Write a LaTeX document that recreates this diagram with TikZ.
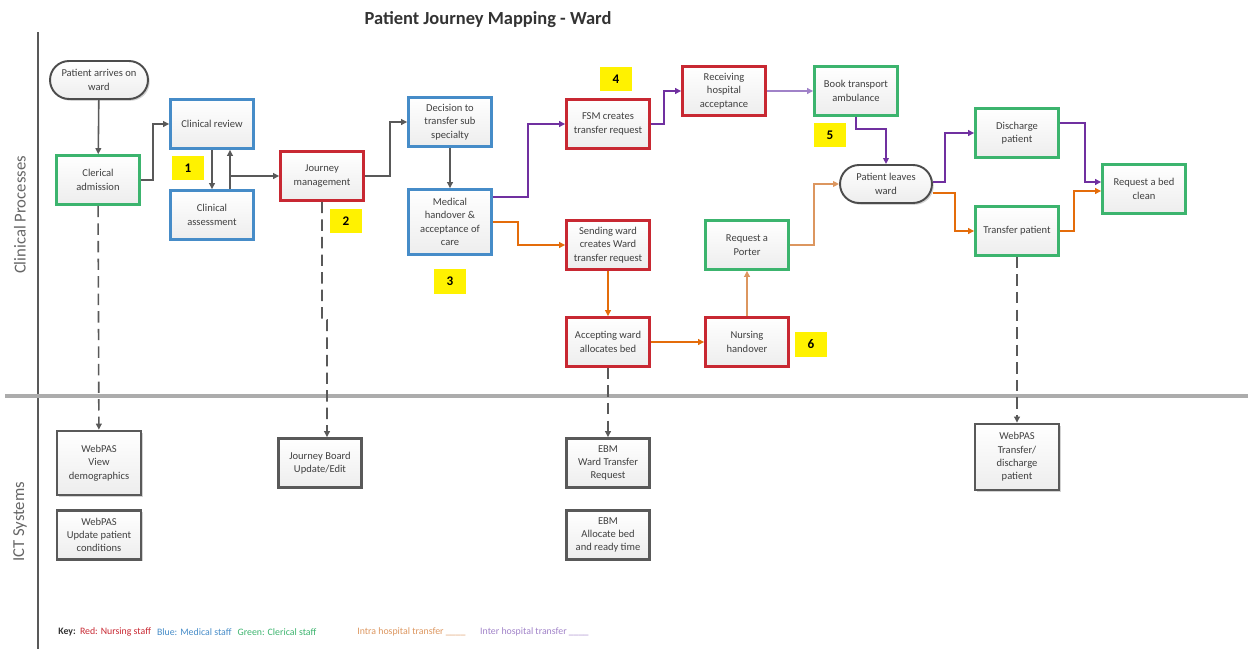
\documentclass[tikz,border=0pt]{standalone}
\usepackage{fontspec}
\setmainfont{Carlito}
\usetikzlibrary{arrows.meta,shadows,positioning}

\definecolor{nursered}{RGB}{200,40,50}
\definecolor{medblue}{RGB}{70,140,200}
\definecolor{clergreen}{RGB}{60,180,110}
\definecolor{interpurple}{RGB}{112,48,160}
\definecolor{intraorange}{RGB}{228,108,10}
\definecolor{interlight}{RGB}{160,130,200}
\definecolor{intralight}{RGB}{220,150,95}

\begin{document}
\begin{tikzpicture}[x=0.02cm,y=-0.02cm,>={Triangle[length=3.4pt,width=3.2pt]},
  box/.style={draw,line width=1.5pt,top color=white,bottom color=gray!14,
    drop shadow={shadow xshift=1pt,shadow yshift=-1pt,opacity=0.35},
    minimum width=1.66cm,minimum height=0.98cm,align=center,inner sep=1pt,
    font=\fontsize{6}{7.6}\selectfont,text=black!75},
  nurse/.style={box,draw=nursered},
  med/.style={box,draw=medblue},
  cler/.style={box,draw=clergreen},
  ict/.style={box,draw=black!65},
  term/.style={box,draw=black!70,line width=1.1pt,rounded corners=0.38cm,minimum height=0.76cm},
  badge/.style={fill=yellow,minimum width=0.64cm,minimum height=0.5cm,font=\fontsize{7.5}{9}\bfseries\selectfont},
  flow/.style={->,line width=0.9pt,black!65},
  intra/.style={->,line width=0.9pt,intraorange},
  inter/.style={->,line width=0.9pt,interpurple},
  sys/.style={->,line width=0.9pt,black!65,dash pattern=on 6.5pt off 3.5pt},
  keytext/.style={anchor=west,inner sep=0pt,font=\fontsize{5.6}{6.5}\selectfont}]
  \useasboundingbox (0,0) rectangle (1248,649);

  % lanes
  \draw[black!65,line width=0.9pt] (38,32) -- (38,649);
  \draw[gray!65,line width=2.2pt] (5,396) -- (1248,396);
  \node[font=\fontsize{10.5}{12}\bfseries\selectfont,text=black!80] (title) at (488,20) {Patient Journey Mapping - Ward};
  \node[rotate=90,font=\fontsize{9.5}{11}\selectfont,text=black!60] (lanecp) at (20,215) {Clinical Processes};
  \node[rotate=90,font=\fontsize{9.5}{11}\selectfont,text=black!60] (laneict) at (20,522) {ICT Systems};

  % clinical processes
  \node[term,minimum width=1.96cm] (arr) at (99,80) {Patient arrives on\\ward};
  \node[cler] (cadm) at (98,180) {Clerical\\admission};
  \node[med] (crev) at (212,124) {Clinical review};
  \node[med] (cass) at (212,215) {Clinical\\assessment};
  \node[nurse] (jman) at (322,176) {Journey\\management};
  \node[med] (dec) at (450,122) {Decision to\\transfer sub\\specialty};
  \node[med,minimum height=1.3cm] (mho) at (450,222) {Medical\\handover \&\\acceptance of\\care};
  \node[nurse] (fsm) at (608,124) {FSM creates\\transfer request};
  \node[nurse] (rha) at (724,91) {Receiving\\hospital\\acceptance};
  \node[cler] (bta) at (856,91) {Book transport\\ambulance};
  \node[nurse] (swd) at (608,245) {Sending ward\\creates Ward\\transfer request};
  \node[nurse] (awd) at (608,342) {Accepting ward\\allocates bed};
  \node[nurse] (nho) at (747,342) {Nursing\\handover};
  \node[cler] (rpo) at (747,245) {Request a\\Porter};
  \node[term,minimum width=1.84cm] (plw) at (886,184) {Patient leaves\\ward};
  \node[cler] (dis) at (1017,133) {Discharge\\patient};
  \node[cler] (trp) at (1017,231) {Transfer patient};
  \node[cler] (rbc) at (1144,189) {Request a bed\\clean};

  % step numbers
  \node[badge] (b1) at (188,168) {1};
  \node[badge] (b2) at (346,221) {2};
  \node[badge] (b3) at (450,281) {3};
  \node[badge] (b4) at (616,79) {4};
  \node[badge] (b5) at (830,135) {5};
  \node[badge] (b6) at (811,344) {6};

  % ICT systems
  \node[ict,minimum width=1.68cm,minimum height=1.28cm] (wpv) at (99,463) {WebPAS\\View\\demographics};
  \node[ict,minimum width=1.68cm] (wpu) at (99,535) {WebPAS\\Update patient\\conditions};
  \node[ict] (jbu) at (320,463) {Journey Board\\Update/Edit};
  \node[ict] (ebw) at (608,463) {EBM\\Ward Transfer\\Request};
  \node[ict] (eba) at (608,535) {EBM\\Allocate bed\\and ready time};
  \node[ict,minimum width=1.68cm,minimum height=1.32cm] (wpt) at (1017,457) {WebPAS\\Transfer/\\discharge\\patient};

  % flows
  \draw[flow] (arr) -- (cadm);
  \draw[flow] (cadm.east) -- ++(12,0) |- (crev.west);
  \draw[flow] (crev) -- (cass);
  \draw[flow] ([xshift=0.36cm]cass.north) -- ([xshift=0.36cm]crev.south);
  \draw[flow] ([xshift=0.36cm]cass.north) |- (jman.west);
  \draw[flow] (jman.east) -- ++(25,0) |- (dec.west);
  \draw[flow] (dec) -- (mho);
  % inter hospital transfer
  \draw[inter] ([yshift=0.5cm]mho.east) -- ++(35,0) |- (fsm.west);
  \draw[inter] (fsm.east) -- ++(13,0) |- (rha.west);
  \draw[inter,interlight] (rha) -- (bta);
  \draw[inter] (bta.south) -- ++(0,12) -| (plw.north);
  \draw[inter] ([yshift=0.04cm]plw.east) -- ++(12,0) |- (dis.west);
  \draw[inter] ([yshift=0.2cm]dis.east) -- ++(25,0) |- ([yshift=0.14cm]rbc.west);
  % intra hospital transfer
  \draw[intra] (mho.east) -- ++(25,0) |- (swd.west);
  \draw[intra] (swd) -- (awd);
  \draw[intra] (awd) -- (nho);
  \draw[intra,intralight] (nho) -- (rpo);
  \draw[intra,intralight] (rpo.east) -- ++(24,0) |- (plw.west);
  \draw[intra] ([yshift=-0.18cm]plw.east) -- ++(22,0) |- (trp.west);
  \draw[intra] (trp.east) -- ++(14,0) |- ([yshift=-0.04cm]rbc.west);

  % system updates
  \draw[sys] (cadm) -- (wpv);
  \draw[sys] (jman.south) -- ++(0,118) -- ++(5,0) -- ([xshift=0.14cm]jbu.north);
  \draw[sys] (awd) -- (ebw);
  \draw[sys] (trp) -- (wpt);

  % key
  \node[keytext,text=black!80] (k0) at (58,632) {\bfseries Key:};
  \node[keytext,text=nursered,right=2pt of k0] (k1) {Red: Nursing staff};
  \node[keytext,text=medblue,right=3pt of k1] (k2) {Blue: Medical staff};
  \node[keytext,text=clergreen,right=3pt of k2] (k3) {Green: Clerical staff};
  \node[keytext,text=intralight] (k4) at (357,632) {Intra hospital transfer \_\_\_\_};
  \node[keytext,text=interlight,right=8pt of k4] (k5) {Inter hospital transfer \_\_\_\_};
\end{tikzpicture}
\end{document}
